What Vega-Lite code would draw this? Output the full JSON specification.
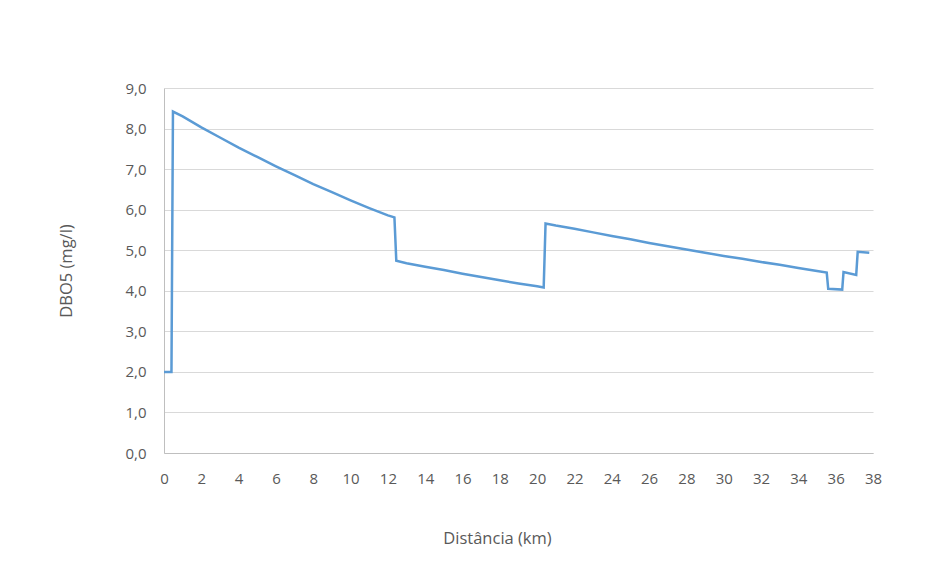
{
  "$schema": "https://vega.github.io/schema/vega-lite/v6.json",
  "width": 709,
  "height": 365,
  "autosize": {"type": "none"},
  "padding": {"left": 164, "top": 88, "right": 66, "bottom": 130},
  "background": "white",
  "config": {
    "view": {"stroke": null},
    "font": "Open Sans"
  },
  "data": {
    "values": [
      {"km": 0, "dbo": 2.0},
      {"km": 0.4, "dbo": 2.0},
      {"km": 0.48, "dbo": 8.42},
      {"km": 1, "dbo": 8.30},
      {"km": 2, "dbo": 8.03},
      {"km": 3, "dbo": 7.78},
      {"km": 4, "dbo": 7.53},
      {"km": 5, "dbo": 7.30},
      {"km": 6, "dbo": 7.07},
      {"km": 7, "dbo": 6.85},
      {"km": 8, "dbo": 6.63},
      {"km": 9, "dbo": 6.43},
      {"km": 10, "dbo": 6.23},
      {"km": 11, "dbo": 6.04},
      {"km": 12, "dbo": 5.86},
      {"km": 12.35, "dbo": 5.81},
      {"km": 12.45, "dbo": 4.74},
      {"km": 13, "dbo": 4.68},
      {"km": 14, "dbo": 4.59},
      {"km": 15, "dbo": 4.51},
      {"km": 16, "dbo": 4.42},
      {"km": 17, "dbo": 4.34},
      {"km": 18, "dbo": 4.26},
      {"km": 19, "dbo": 4.18},
      {"km": 20, "dbo": 4.11},
      {"km": 20.35, "dbo": 4.08},
      {"km": 20.45, "dbo": 5.66},
      {"km": 21, "dbo": 5.61},
      {"km": 22, "dbo": 5.53},
      {"km": 23, "dbo": 5.44},
      {"km": 24, "dbo": 5.35},
      {"km": 25, "dbo": 5.27},
      {"km": 26, "dbo": 5.18},
      {"km": 27, "dbo": 5.10},
      {"km": 28, "dbo": 5.02},
      {"km": 29, "dbo": 4.94},
      {"km": 30, "dbo": 4.86},
      {"km": 31, "dbo": 4.79},
      {"km": 32, "dbo": 4.71},
      {"km": 33, "dbo": 4.64},
      {"km": 34, "dbo": 4.56},
      {"km": 35, "dbo": 4.49},
      {"km": 35.52, "dbo": 4.45},
      {"km": 35.6, "dbo": 4.05},
      {"km": 36.35, "dbo": 4.03},
      {"km": 36.42, "dbo": 4.46},
      {"km": 37.1, "dbo": 4.39},
      {"km": 37.18, "dbo": 4.96},
      {"km": 37.8, "dbo": 4.94}
    ]
  },
  "mark": {"type": "line", "color": "#5b9bd5", "strokeWidth": 2.5, "interpolate": "linear"},
  "encoding": {
    "x": {
      "field": "km",
      "type": "quantitative",
      "scale": {"domain": [0, 38], "nice": false, "zero": true},
      "axis": {
        "title": "Distância (km)",
        "values": [0,2,4,6,8,10,12,14,16,18,20,22,24,26,28,30,32,34,36,38],
        "grid": false,
        "ticks": false,
        "domainColor": "#bfbfbf",
        "domainWidth": 1,
        "labelColor": "#595959",
        "labelFontSize": 15,
        "labelPadding": 18,
        "labelFlush": false,
        "titleColor": "#595959",
        "titleFontSize": 16.5,
        "titleFontWeight": "normal",
        "titlePadding": 44,
        "titleX": 333
      }
    },
    "y": {
      "field": "dbo",
      "type": "quantitative",
      "scale": {"domain": [0, 9], "nice": false},
      "axis": {
        "title": "DBO5 (mg/l)",
        "values": [0,1,2,3,4,5,6,7,8,9],
        "labelExpr": "replace(format(datum.value, '.1f'), '.', ',')",
        "grid": true,
        "gridColor": "#d9d9d9",
        "gridWidth": 1,
        "ticks": false,
        "domain": true,
        "domainColor": "#bfbfbf",
        "labelColor": "#595959",
        "labelFontSize": 15,
        "labelPadding": 18,
        "titleColor": "#595959",
        "titleFontSize": 16.5,
        "titleFontWeight": "normal",
        "titlePadding": 50
      }
    }
  }
}
